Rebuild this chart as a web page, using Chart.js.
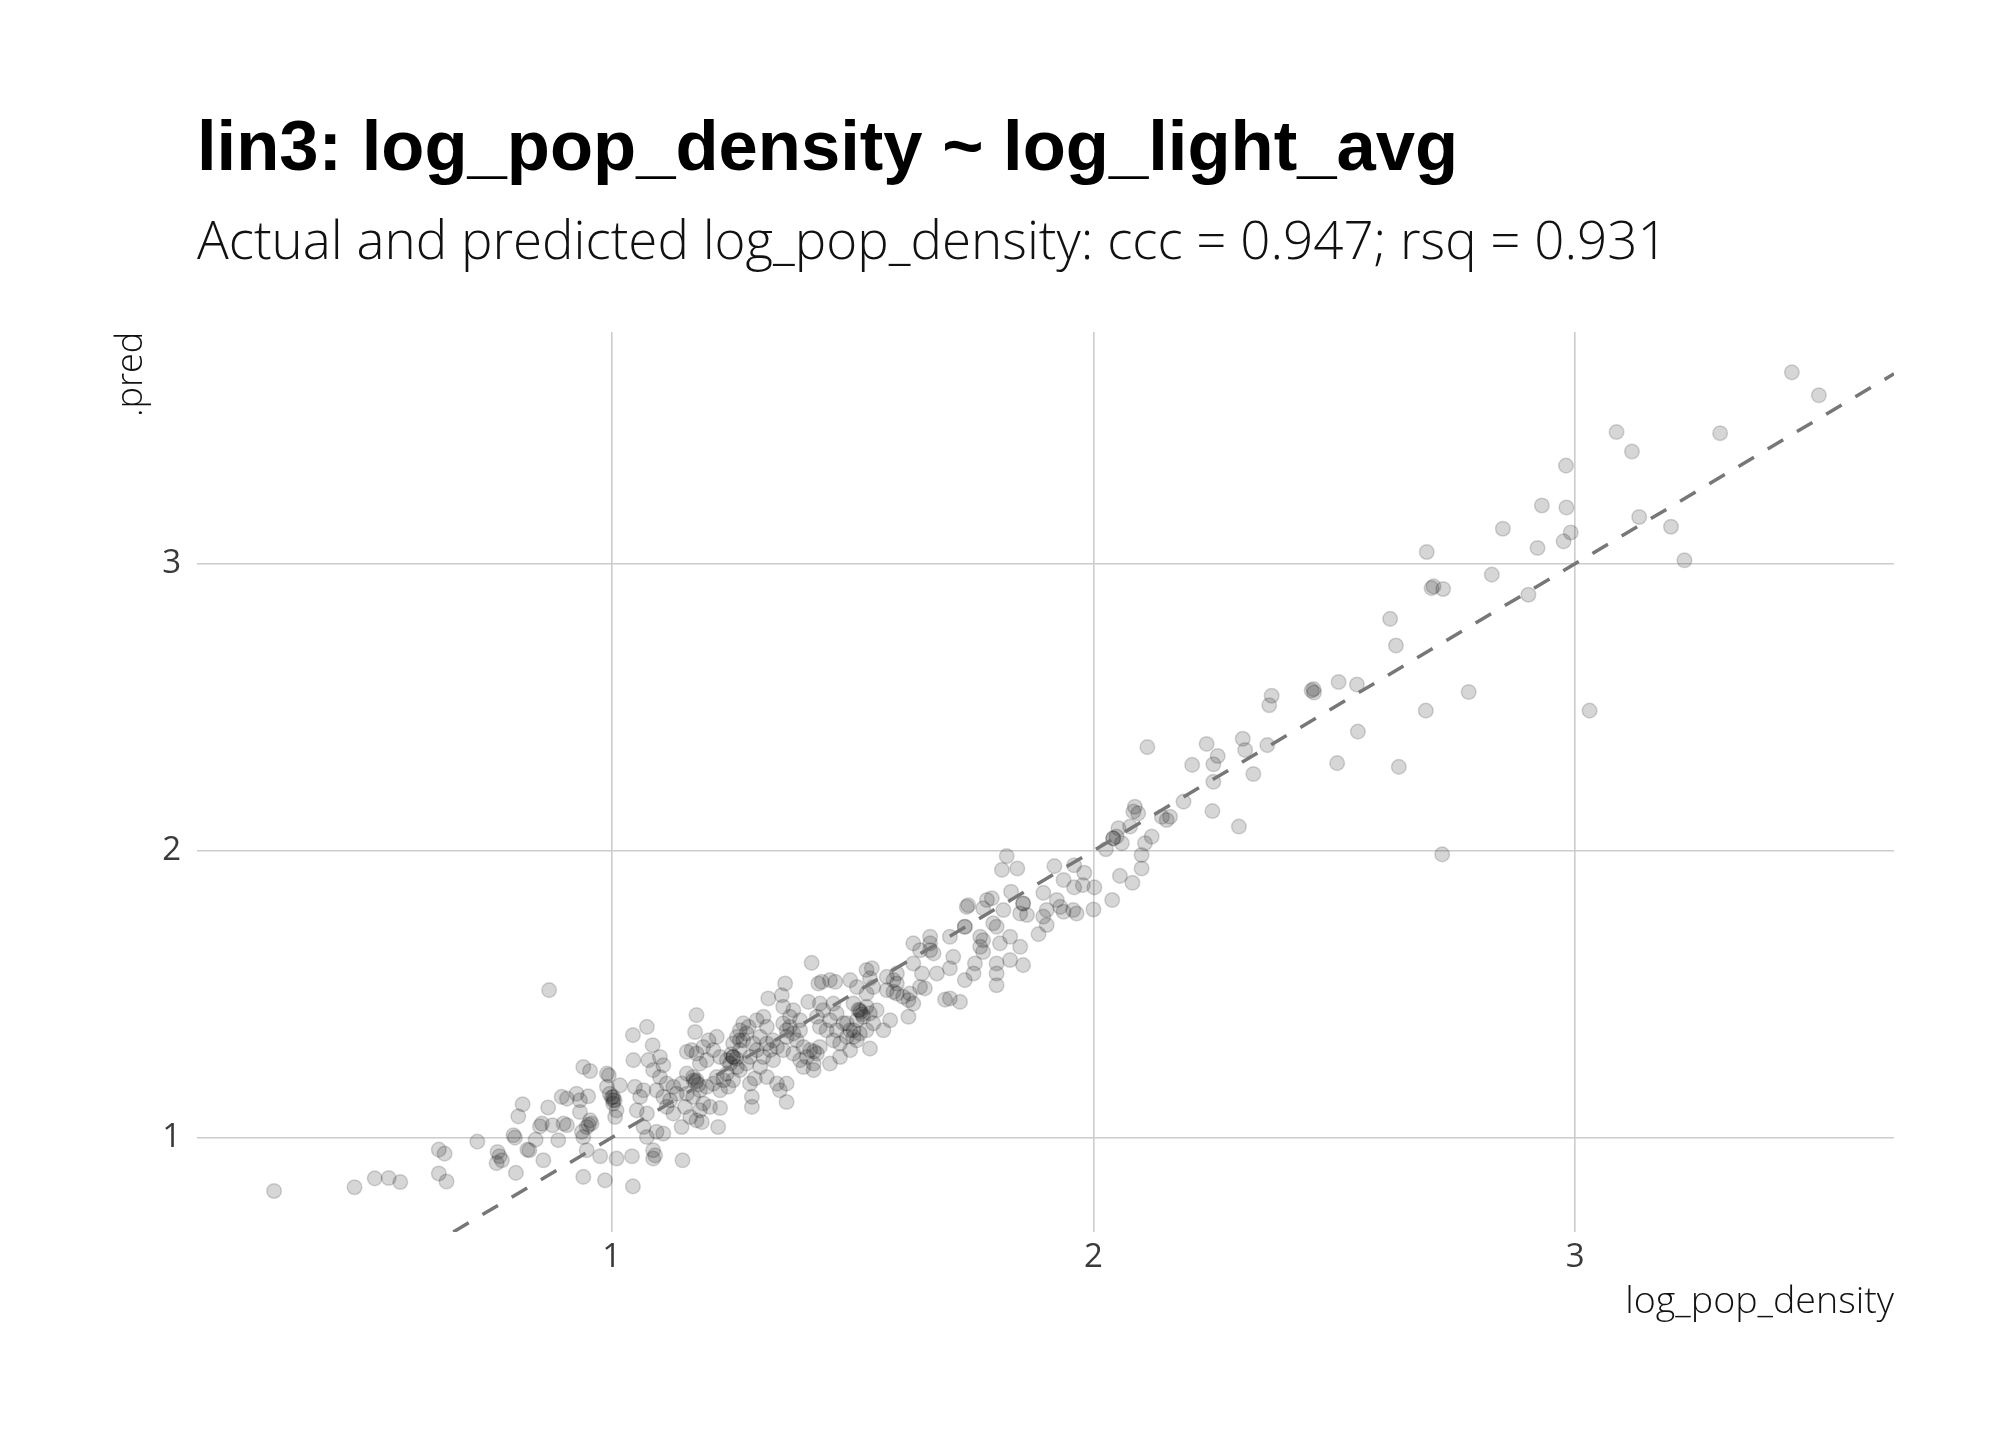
<!DOCTYPE html>
<html>
<head>
<meta charset="utf-8">
<title>lin3: log_pop_density ~ log_light_avg</title>
<script src="https://cdn.jsdelivr.net/npm/chart.js@4.4.1/dist/chart.umd.min.js"></script>
<style>
  html, body { margin: 0; padding: 0; background: #ffffff; }
  canvas { display: block; }
</style>
</head>
<body>
<canvas id="chart1" width="2016" height="1440"></canvas>
<script>
// actual log_pop_density (x) and predicted .pred (y)
const logPopDensity = [
  0.299,0.466,0.508,0.537,0.561,0.641,0.653,0.641,0.657,0.721,0.763,0.767,0.761,0.772,
  0.796,0.799,0.806,0.815,0.801,0.825,0.829,0.842,0.851,0.855,0.858,0.868,0.870,0.877,
  0.889,0.896,0.907,0.900,0.907,0.927,0.934,0.934,0.951,0.941,0.955,0.938,0.948,0.955,
  0.941,0.958,0.948,0.976,0.941,0.986,1.010,1.042,1.044,0.990,0.994,1.003,1.003,1.010,
  0.996,1.007,0.990,1.017,1.045,1.044,1.073,1.085,1.048,1.059,1.066,1.052,1.073,1.076,
  1.100,1.107,1.086,1.066,1.073,1.093,1.107,1.086,1.090,1.086,1.100,1.114,1.128,1.093,
  1.107,1.121,1.135,1.114,1.128,1.147,1.145,1.152,1.156,1.145,1.156,1.169,1.176,1.183,
  1.169,1.190,1.197,1.183,1.204,1.163,1.176,1.187,1.173,1.176,1.156,1.166,1.176,1.190,
  1.201,1.218,1.211,1.197,1.225,1.183,1.221,1.225,1.211,1.225,1.232,1.218,1.239,1.239,
  1.252,1.246,1.260,1.266,1.252,1.273,1.260,1.266,1.280,1.284,1.273,1.294,1.301,1.287,
  1.280,1.266,1.242,1.252,1.291,1.291,1.297,1.287,1.301,1.315,1.322,1.308,1.322,1.335,
  1.329,1.343,1.315,1.335,1.308,1.325,1.353,1.356,1.360,1.322,1.343,1.349,1.363,1.363,
  1.356,1.370,1.377,1.363,1.384,1.391,1.370,1.377,1.391,1.398,1.356,1.377,1.391,1.405,
  1.412,1.419,1.398,1.419,1.415,1.408,1.429,1.436,1.453,1.464,1.432,1.439,1.460,1.467,
  1.453,1.426,1.432,1.446,1.467,1.481,1.460,1.474,1.488,1.495,1.432,1.426,1.453,1.474,
  1.495,1.495,1.509,1.529,1.540,1.536,1.543,1.529,1.502,1.515,1.522,1.509,1.529,1.536,
  1.543,1.502,1.515,1.529,1.550,1.488,1.536,1.502,1.509,1.564,1.578,1.585,1.592,1.571,
  1.592,1.571,1.592,
  1.170,1.180,1.174,1.248,1.258,1.252,1.520,1.512,1.517,1.420,1.000,1.006,0.952,1.585,
  1.363,1.266,1.003,
  1.820,1.810,1.842,1.919,1.960,1.981,1.938,1.960,1.978,2.002,2.000,2.039,2.055,2.081,
  2.026,2.041,2.052,2.059,2.048,2.076,2.093,2.086,2.083,2.121,2.100,2.100,2.107,2.142,
  2.152,2.159,2.187,2.247,2.302,2.041,
  1.829,1.896,1.854,1.848,1.862,1.924,1.931,1.938,1.958,1.965,1.903,1.896,1.903,1.886,
  1.813,1.779,1.789,1.771,1.740,1.737,1.854,
  1.733,1.792,1.799,1.765,1.771,1.806,1.827,1.848,1.854,1.827,1.799,1.799,1.799,1.754,
  1.751,1.733,1.702,1.675,1.709,1.702,1.661,1.661,1.668,1.626,1.640,1.626,1.644,1.640,
  1.650,1.619,1.605,1.616,1.626,1.616,1.692,1.702,1.723,1.765,1.771,1.661,1.733,
  2.112,2.235,2.205,2.258,2.249,2.249,2.310,2.315,2.361,2.332,2.370,2.365,2.457,2.453,
  2.458,2.509,2.547,2.549,2.506,2.634,2.690,2.779,2.616,2.628,2.692,2.706,2.702,2.726,
  2.827,2.850,2.922,2.903,3.030,2.724,3.450,3.506,3.086,3.118,3.301,2.981,2.931,2.982,
  2.991,2.976,3.133,3.199,3.227
];
const predValues = [
  0.814,0.827,0.858,0.859,0.845,0.958,0.944,0.875,0.847,0.986,0.950,0.935,0.911,0.921,
  1.008,1.000,1.074,1.116,0.877,0.958,0.956,0.993,1.039,1.049,0.921,1.105,1.514,1.043,
  0.991,1.142,1.136,1.049,1.043,1.153,1.130,1.089,1.144,1.246,1.232,1.020,1.037,1.060,
  1.002,1.049,0.956,0.935,0.863,0.851,0.927,0.935,0.830,1.223,1.217,1.142,1.119,1.095,
  1.153,1.072,1.177,1.182,1.270,1.357,1.386,1.322,1.177,1.142,1.165,1.095,1.084,1.270,
  1.281,1.252,1.235,1.037,1.002,1.020,1.014,0.956,0.938,0.927,1.211,1.188,1.177,1.165,
  1.142,1.130,1.153,1.107,1.084,0.921,1.037,1.107,1.153,1.188,1.223,1.211,1.200,1.165,
  1.142,1.119,1.177,1.095,1.107,1.072,1.060,1.054,1.368,1.427,1.299,1.305,1.293,1.316,
  1.339,1.351,1.305,1.270,1.281,1.258,1.037,1.103,1.188,1.165,1.200,1.211,1.223,1.270,
  1.281,1.258,1.246,1.305,1.328,1.339,1.351,1.374,1.363,1.386,1.398,1.328,1.305,1.281,
  1.258,1.235,1.177,1.200,1.142,1.107,1.206,1.188,1.409,1.421,1.386,1.351,1.328,1.339,
  1.305,1.316,1.281,1.270,1.246,1.485,1.496,1.456,1.537,1.211,1.188,1.165,1.188,1.124,
  1.398,1.386,1.363,1.351,1.339,1.374,1.421,1.444,1.409,1.316,1.305,1.293,1.270,1.281,
  1.305,1.258,1.246,1.235,1.609,1.473,1.537,1.543,1.549,1.543,1.467,1.444,1.467,1.433,
  1.409,1.421,1.386,1.374,1.374,1.398,1.339,1.328,1.351,1.374,1.316,1.293,1.258,1.281,
  1.305,1.549,1.525,1.584,1.590,1.555,1.525,1.502,1.467,1.444,1.421,1.409,1.456,1.433,
  1.398,1.374,1.363,1.374,1.444,1.398,1.310,1.351,1.339,1.374,1.409,1.549,1.537,1.514,
  1.502,1.560,1.572,
  1.200,1.185,1.194,1.290,1.275,1.281,1.430,1.445,1.438,1.300,1.140,1.130,1.045,1.508,
  1.374,1.339,1.130,
  1.981,1.933,1.938,1.946,1.949,1.923,1.898,1.872,1.880,1.872,1.795,1.828,1.912,1.888,
  2.005,2.043,2.078,2.026,2.049,2.084,2.130,2.153,2.136,2.049,1.985,1.938,2.026,2.118,
  2.107,2.118,2.171,2.138,2.084,2.043,
  1.857,1.853,1.816,1.781,1.776,1.828,1.804,1.787,1.793,1.781,1.793,1.770,1.741,1.709,
  1.793,1.828,1.834,1.799,1.810,1.804,1.816,
  1.735,1.747,1.735,1.700,1.688,1.677,1.700,1.665,1.601,1.619,1.607,1.572,1.531,1.607,
  1.572,1.549,1.590,1.572,1.630,1.700,1.700,1.653,1.642,1.677,1.653,1.607,1.572,1.525,
  1.520,1.502,1.491,1.479,1.467,1.421,1.481,1.485,1.473,1.665,1.647,1.677,1.735,
  2.361,2.372,2.299,2.330,2.301,2.240,2.390,2.351,2.368,2.267,2.540,2.507,2.563,2.558,
  2.551,2.588,2.579,2.415,2.305,2.292,2.488,2.553,2.808,2.715,3.041,2.921,2.915,2.912,
  2.962,3.122,3.055,2.892,2.488,1.987,3.667,3.587,3.459,3.391,3.455,3.342,3.203,3.196,
  3.109,3.078,3.163,3.129,3.012
];
const tickValues = [1, 2, 3];
const xRange = [0.139, 3.662];
const yRange = [0.671, 3.808];
// y = x reference line, clipped to the panel
const refLineEnds = [0.671, 3.662];

const points = logPopDensity.map(function (x, i) {
  return { x: x, y: predValues[i] };
});
const refLine = refLineEnds.map(function (v) {
  return { x: v, y: v };
});

const titleFont = "'Liberation Sans', Arial, sans-serif";
const bodyFont = "'Open Sans', Roboto, sans-serif";

new Chart(document.getElementById("chart1"), {
  type: "scatter",
  data: {
    datasets: [
      {
        type: "line",
        data: refLine,
        borderColor: "#777777",
        borderWidth: 3.5,
        borderDash: [18, 16],
        pointRadius: 0,
        fill: false,
        order: 0
      },
      {
        data: points,
        pointRadius: 7.3,
        borderWidth: 1.5,
        backgroundColor: "rgba(0,0,0,0.16)",
        borderColor: "rgba(0,0,0,0.16)",
        order: 1
      }
    ]
  },
  options: {
    responsive: false,
    animation: false,
    devicePixelRatio: 1,
    layout: {
      padding: { top: 60, left: 110, right: 122, bottom: 115 }
    },
    plugins: {
      legend: { display: false },
      tooltip: { enabled: false },
      title: {
        display: true,
        text: "lin3: log_pop_density ~ log_light_avg",
        align: "start",
        fullSize: false,
        color: "#000000",
        font: { family: titleFont, size: 70.6, weight: "bold", lineHeight: 1.2 },
        padding: { top: 48, bottom: 10 }
      },
      subtitle: {
        display: true,
        text: "Actual and predicted log_pop_density: ccc = 0.947; rsq = 0.931",
        align: "start",
        fullSize: false,
        color: "#111111",
        font: { family: bodyFont, size: 52.9, weight: "300", lineHeight: 1.2 },
        padding: { top: 9.9, bottom: 55.8 }
      }
    },
    scales: {
      x: {
        type: "linear",
        min: xRange[0],
        max: xRange[1],
        afterBuildTicks: function (scale) {
          scale.ticks = tickValues.map(function (v) { return { value: v }; });
        },
        afterFit: function (scale) { scale.height = 93; },
        grid: { color: "#cccccc", lineWidth: 1.6, drawTicks: false },
        border: { display: false },
        ticks: {
          padding: 6,
          color: "#3a3a3a",
          font: { family: bodyFont, size: 33, weight: "normal" }
        },
        title: {
          display: true,
          text: "log_pop_density",
          align: "end",
          color: "#111111",
          padding: { top: 0, bottom: 0 },
          font: { family: bodyFont, size: 37.6, weight: "300", lineHeight: 1.2 }
        }
      },
      y: {
        type: "linear",
        min: yRange[0],
        max: yRange[1],
        afterBuildTicks: function (scale) {
          scale.ticks = tickValues.map(function (v) { return { value: v }; });
        },
        afterFit: function (scale) { scale.width = 87; },
        grid: { color: "#cccccc", lineWidth: 1.6, drawTicks: false },
        border: { display: false },
        ticks: {
          padding: 16,
          color: "#3a3a3a",
          font: { family: bodyFont, size: 33, weight: "normal" }
        },
        title: {
          display: true,
          text: ".pred",
          align: "end",
          color: "#111111",
          padding: { top: 0, bottom: 0 },
          font: { family: bodyFont, size: 36, weight: "300", lineHeight: 1.2 }
        }
      }
    }
  }
});
</script>
</body>
</html>
